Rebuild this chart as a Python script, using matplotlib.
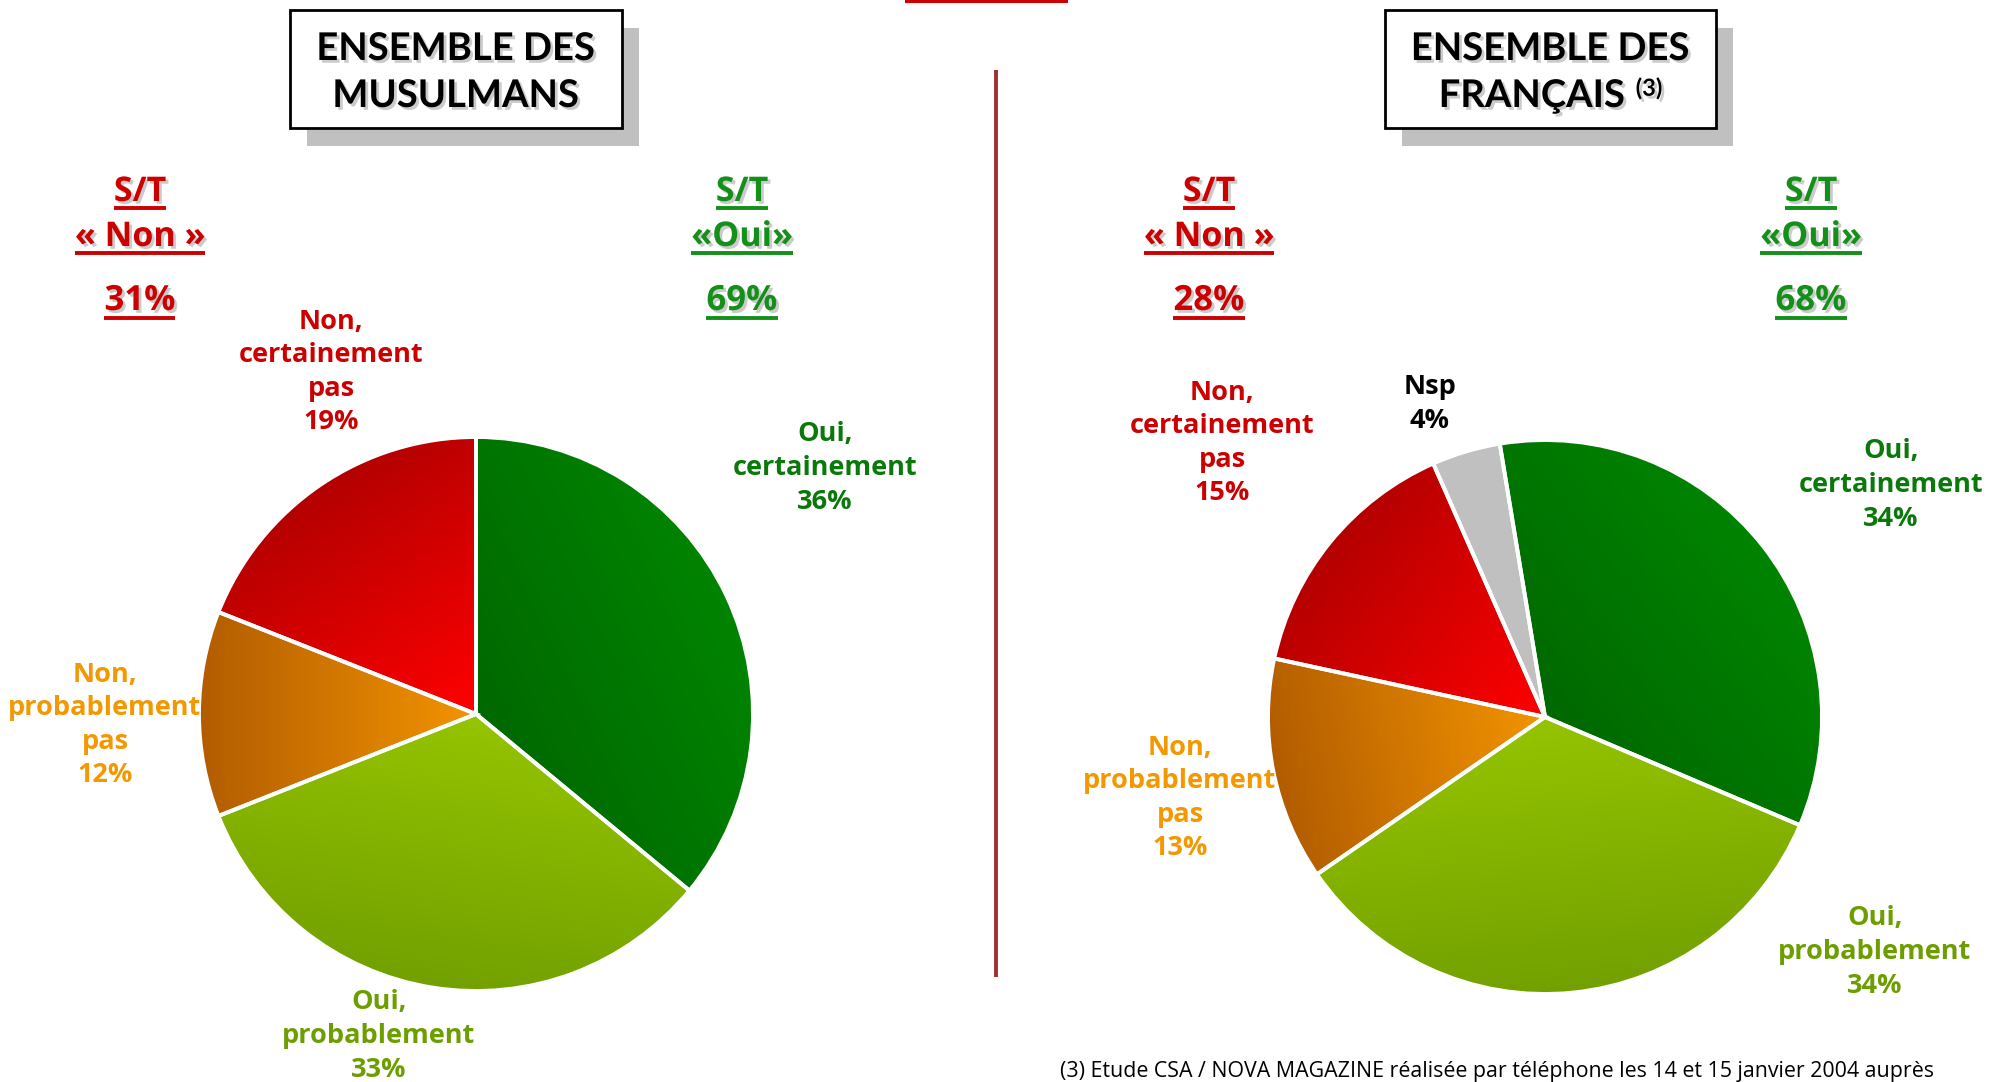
import numpy as np
import matplotlib.pyplot as plt
import matplotlib.patheffects as pe
from matplotlib.colors import to_rgb
from matplotlib.patches import Rectangle

W, H = 1989, 1082

# ensemble des musulmans
mus_labels = ["Oui,\ncertainement", "Oui,\nprobablement", "Non,\nprobablement\npas", "Non,\ncertainement\npas"]
mus_values = [36, 33, 12, 19]
# ensemble des français
fr_labels = ["Oui,\ncertainement", "Oui,\nprobablement", "Non,\nprobablement\npas", "Non,\ncertainement\npas", "Nsp"]
fr_values = [34, 34, 13, 15, 4]
st_non = [31, 28]
st_oui = [69, 68]
titles = [["ENSEMBLE DES", "MUSULMANS"], ["ENSEMBLE DES", "FRANÇAIS"]]
title_notes = ["", "(3)"]
footnote = "(3) Etude CSA / NOVA MAGAZINE réalisée par téléphone les 14 et 15 janvier 2004 auprès"

# (centre, bord) de chaque dégradé, couleur du texte
shades = {
    "Oui,\ncertainement": ("#006800", "#008400", "#0a780a"),
    "Oui,\nprobablement": ("#95c400", "#72a000", "#6c9e00"),
    "Non,\nprobablement\npas": ("#f39400", "#b25c00", "#f39800"),
    "Non,\ncertainement\npas": ("#ff0000", "#b40000", "#cc0000"),
    "Nsp": ("#c0c0c0", "#c0c0c0", "#000000"),
}

FONT = "Open Sans"
RED = "#cc0000"
GREEN = "#14901a"


def Y(y):
    return H - y


fig = plt.figure(figsize=(W / 100, H / 100), dpi=100)
ax = fig.add_axes([0, 0, 1, 1])
shadow = [pe.SimplePatchShadow(offset=(2, -2), shadow_rgbFace="0.55", alpha=0.45), pe.Normal()]


def shade(w, c0, c1, cx, cy, r):
    th = np.deg2rad((w.theta1 + w.theta2) / 2)
    xs = np.linspace(cx - r, cx + r, 400)
    ys = np.linspace(cy - r, cy + r, 400)
    X, Yg = np.meshgrid(xs, ys)
    t = ((X - cx) * np.cos(th) + (Yg - cy) * np.sin(th)) / r
    t = np.clip(t, 0, 1)[..., None]
    img = np.array(to_rgb(c0)) * (1 - t) + np.array(to_rgb(c1)) * t
    im = ax.imshow(img, extent=(cx - r, cx + r, cy - r, cy + r), origin="lower",
                   zorder=1, interpolation="bilinear")
    im.set_clip_path(w)


def draw_pie(values, labels, cx, cy, r, start, label_pos):
    wedges, _ = ax.pie(values, startangle=start, counterclock=False, center=(cx, Y(cy)), radius=r,
                       colors=[shades[l][0] for l in labels],
                       wedgeprops=dict(edgecolor="white", linewidth=2.8))
    for w, lab, v, (lx, ly) in zip(wedges, labels, values, label_pos):
        w.set_facecolor("none")
        w.set_zorder(2)
        c0, c1, tc = shades[lab]
        shade(w, c0, c1, cx, Y(cy), r)
        ax.text(lx, Y(ly), f"{lab}\n{v}%", ha="center", va="center", color=tc,
                fontsize=19.5, fontweight="bold", family=FONT, linespacing=1.38)


draw_pie(mus_values, mus_labels, 476, 714, 277, 90,
         [(825, 468), (379, 1036), (105, 725), (331, 372)])
draw_pie(fr_values, fr_labels, 1545, 717, 277, 99.4,
         [(1891, 485), (1875, 952), (1180, 798), (1222, 443), (1430, 404)])

# boîtes de titre
boxes = [(290, 10, 332, 118), (1385, 10, 331, 118)]
title_lines = []
for (bx, by, bw, bh), lines in zip(boxes, titles):
    ax.add_patch(Rectangle((bx + 17, Y(by + bh + 18)), bw, bh, facecolor="#c0c0c0", edgecolor="none", zorder=3))
    ax.add_patch(Rectangle((bx, Y(by + bh)), bw, bh, facecolor="white", edgecolor="black", linewidth=2, zorder=4))
    row = []
    for txt, y in zip(lines, [49, 96]):
        row.append(ax.text(bx + bw / 2, Y(y), txt, ha="center", va="center", fontsize=27.5,
                           fontweight="bold", family="Lato", zorder=5, path_effects=shadow))
    title_lines.append(row)

# séparation et barre rouge du haut
ax.plot([996, 996], [Y(70), Y(977)], color="#a03030", linewidth=2.8, solid_capstyle="butt")
ax.add_patch(Rectangle((905, Y(3)), 163, 3, facecolor="#cc0000", edgecolor="none"))

# S/T
underlined = []
for xn, xo, non, oui in [(140, 742, st_non[0], st_oui[0]), (1209, 1811, st_non[1], st_oui[1])]:
    for x, lines, col, pct in [(xn, ["S/T", "« Non »"], RED, non), (xo, ["S/T", "«Oui»"], GREEN, oui)]:
        for txt, y in zip(lines, [192, 237]):
            underlined.append(ax.text(x, Y(y), txt, ha="center", va="center", color=col, fontsize=24.5,
                                      fontweight="bold", family=FONT, path_effects=shadow))
        underlined.append(ax.text(x, Y(301), f"{pct}%", ha="center", va="center", color=col,
                                  fontsize=25, fontweight="bold", family=FONT, path_effects=shadow))

ax.text(1060, Y(1071), footnote, ha="left", va="center", fontsize=15.4, family=FONT, color="black")

ax.set_xlim(0, W)
ax.set_ylim(0, H)
ax.set_aspect("auto")
ax.axis("off")

fig.canvas.draw()
rend = fig.canvas.get_renderer()
inv = ax.transData.inverted()
for t in underlined:
    bb = t.get_window_extent(rend).transformed(inv)
    ax.plot([bb.x0, bb.x1], [bb.y0 + 1, bb.y0 + 1], color=t.get_color(), linewidth=2.8,
            solid_capstyle="butt", path_effects=shadow)

# exposant après la deuxième ligne, l'ensemble restant centré
for row, note, (bx, by, bw, bh) in zip(title_lines, title_notes, boxes):
    if not note:
        continue
    last = row[1]
    sup = ax.text(0, 0, note, ha="left", va="center", fontsize=17, fontweight="bold",
                  family="Lato", zorder=5, path_effects=shadow)
    fig.canvas.draw()
    w_main = last.get_window_extent(rend).transformed(inv).width
    w_sup = sup.get_window_extent(rend).transformed(inv).width
    gap = 10
    x0 = bx + bw / 2 - (w_main + gap + w_sup) / 2
    last.set_ha("left")
    last.set_x(x0)
    sup.set_position((x0 + w_main + gap, Y(88)))

fig.savefig("out.png", dpi=100)
